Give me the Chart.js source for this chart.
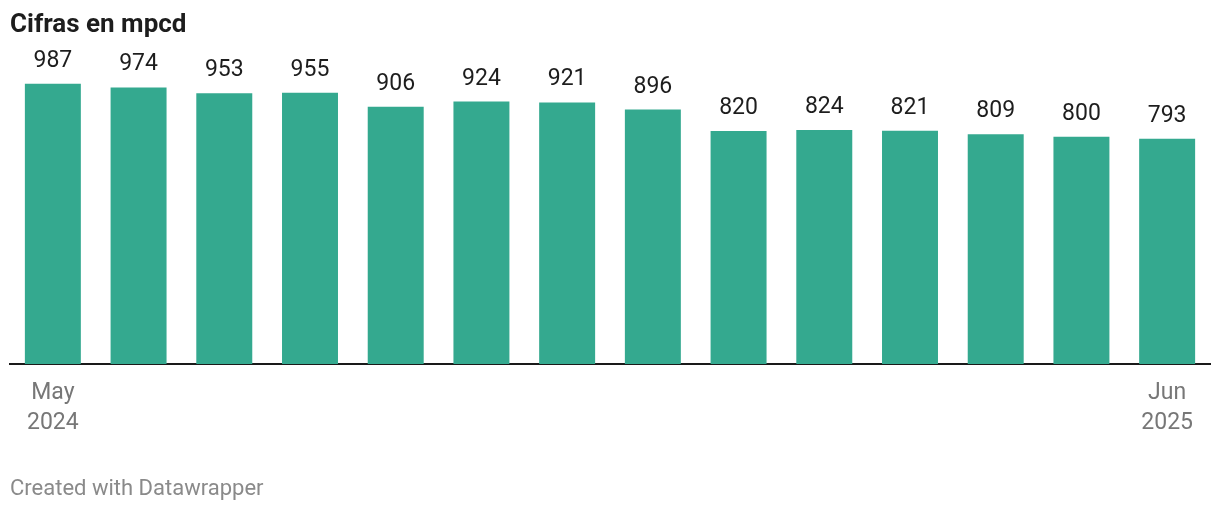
<!DOCTYPE html>
<html>
<head>
<meta charset="utf-8">
<script src="https://cdn.jsdelivr.net/npm/chart.js@4/dist/chart.umd.min.js"></script>
<style>
html,body{margin:0;padding:0;background:#fff;}
#wrap{position:relative;width:1220px;height:510px;}
</style>
</head>
<body>
<div id="wrap"><canvas id="c" width="1220" height="510"></canvas></div>
<script>
const months = ["May","Jun","Jul","Aug","Sep","Oct","Nov","Dec","Jan","Feb","Mar","Apr","May","Jun"];
const years = ["2024","2024","2024","2024","2024","2024","2024","2024","2025","2025","2025","2025","2025","2025"];
const values = [987, 974, 953, 955, 906, 924, 921, 896, 820, 824, 821, 809, 800, 793];
const shownTicks = [0, 13];
const titleText = "Cifras en mpcd";
const footerText = "Created with Datawrapper";

const FONT = "Roboto, 'Noto Sans', sans-serif";

const textPlugin = {
  id: 'textPlugin',
  afterDatasetsDraw(chart) {
    const ctx = chart.ctx;
    const meta = chart.getDatasetMeta(0);
    ctx.save();
    ctx.fillStyle = '#1d1d1d';
    ctx.font = '23px ' + FONT;
    ctx.textAlign = 'center';
    ctx.textBaseline = 'alphabetic';
    meta.data.forEach((bar, i) => {
      ctx.fillText(String(values[i]), bar.x, bar.y - 17);
    });
    ctx.restore();
  },
  afterDraw(chart) {
    const ctx = chart.ctx;
    ctx.save();
    ctx.textAlign = 'left';
    ctx.textBaseline = 'alphabetic';
    ctx.fillStyle = '#1d1d1d';
    ctx.font = 'bold 26px ' + FONT;
    ctx.fillText(titleText, 10, 32);
    ctx.fillStyle = '#8a8a8a';
    ctx.font = '22px ' + FONT;
    ctx.fillText(footerText, 10, 495);
    ctx.restore();
  }
};

new Chart(document.getElementById('c'), {
  type: 'bar',
  data: {
    labels: months.map((m, i) => [m, years[i]]),
    datasets: [{
      data: values,
      backgroundColor: '#34a98f',
      borderWidth: 0,
      categoryPercentage: 1,
      barPercentage: 0.653
    }]
  },
  options: {
    responsive: false,
    animation: false,
    devicePixelRatio: 1,
    layout: { padding: { top: 80, left: 10, right: 10, bottom: 0 } },
    plugins: { legend: { display: false }, tooltip: { enabled: false }, title: { display: false } },
    scales: {
      y: { display: false, min: 0, max: 1000 },
      x: {
        grid: { display: false },
        border: { display: true, color: '#1a1a1a', width: 2 },
        afterFit(scale) { scale.height = 146; },
        ticks: {
          autoSkip: false,
          maxRotation: 0,
          padding: 6,
          color: '#777777',
          font: { family: FONT, size: 23, lineHeight: 1.3 },
          callback(val, idx) { return shownTicks.includes(idx) ? [months[idx], years[idx]] : ''; }
        }
      }
    }
  },
  plugins: [textPlugin]
});
</script>
</body>
</html>
